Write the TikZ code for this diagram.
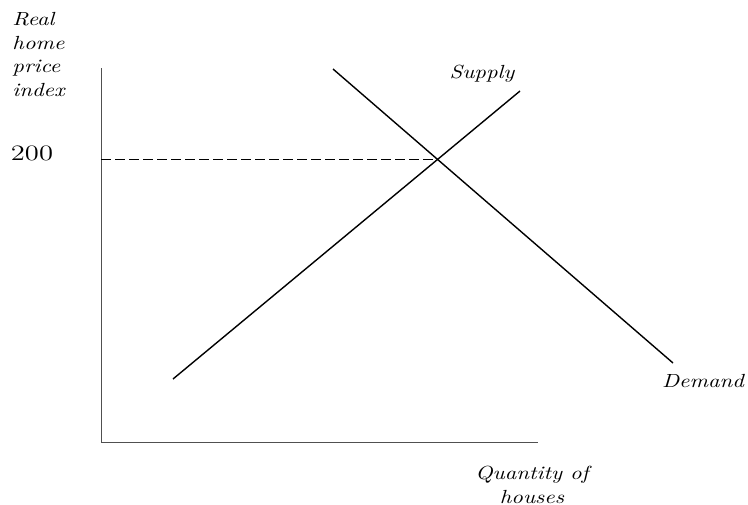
\documentclass[tikz,border=0pt]{standalone}
\usepackage{tikz}
\usetikzlibrary{positioning}
\definecolor{axisgray}{HTML}{505050}

\begin{document}
\begin{tikzpicture}[
  x=0.5pt,y=0.5pt,
  lab/.style={font=\itshape\fontsize{9.5}{11.75}\selectfont,inner sep=0pt,xscale=1.19,transform shape},
  curve/.style={line width=0.7pt,black},
  axis/.style={line width=0.5pt,axisgray}
]
  \useasboundingbox (0,0) rectangle (748,-504);
  % axes
  \coordinate (O) at (101,-442);
  \coordinate (ytop) at (101,-68);
  \coordinate (xend) at (538,-442);
  \draw[axis] (ytop) -- (O) -- (xend);
  % supply and demand
  \coordinate (s1) at (173,-379);
  \coordinate (s2) at (520,-91);
  \coordinate (d1) at (333,-69);
  \coordinate (d2) at (673,-363);
  \draw[curve] (s1) -- (s2);
  \draw[curve] (d1) -- (d2);
  \coordinate (eq) at (intersection of s1--s2 and d1--d2);
  \draw[curve,line width=0.5pt,dash pattern=on 5pt off 2pt] (ytop |- eq) -- (eq);
  % labels
  \node[lab,align=left,anchor=north west] (ylab) at (12,-12) {Real\\home\\price\\index};
  \node[font=\fontsize{11}{13}\selectfont,inner sep=0pt,xscale=1.3,transform shape] (p200) at (32,-153) {200};
  \node[lab,anchor=base] (slab) at (482,-78) {Supply};
  \node[lab,anchor=base] (dlab) at (703,-387) {Demand};
  \node[lab,align=center,anchor=north] (xlab) at (532,-466) {Quantity of\\houses};
\end{tikzpicture}
\end{document}
